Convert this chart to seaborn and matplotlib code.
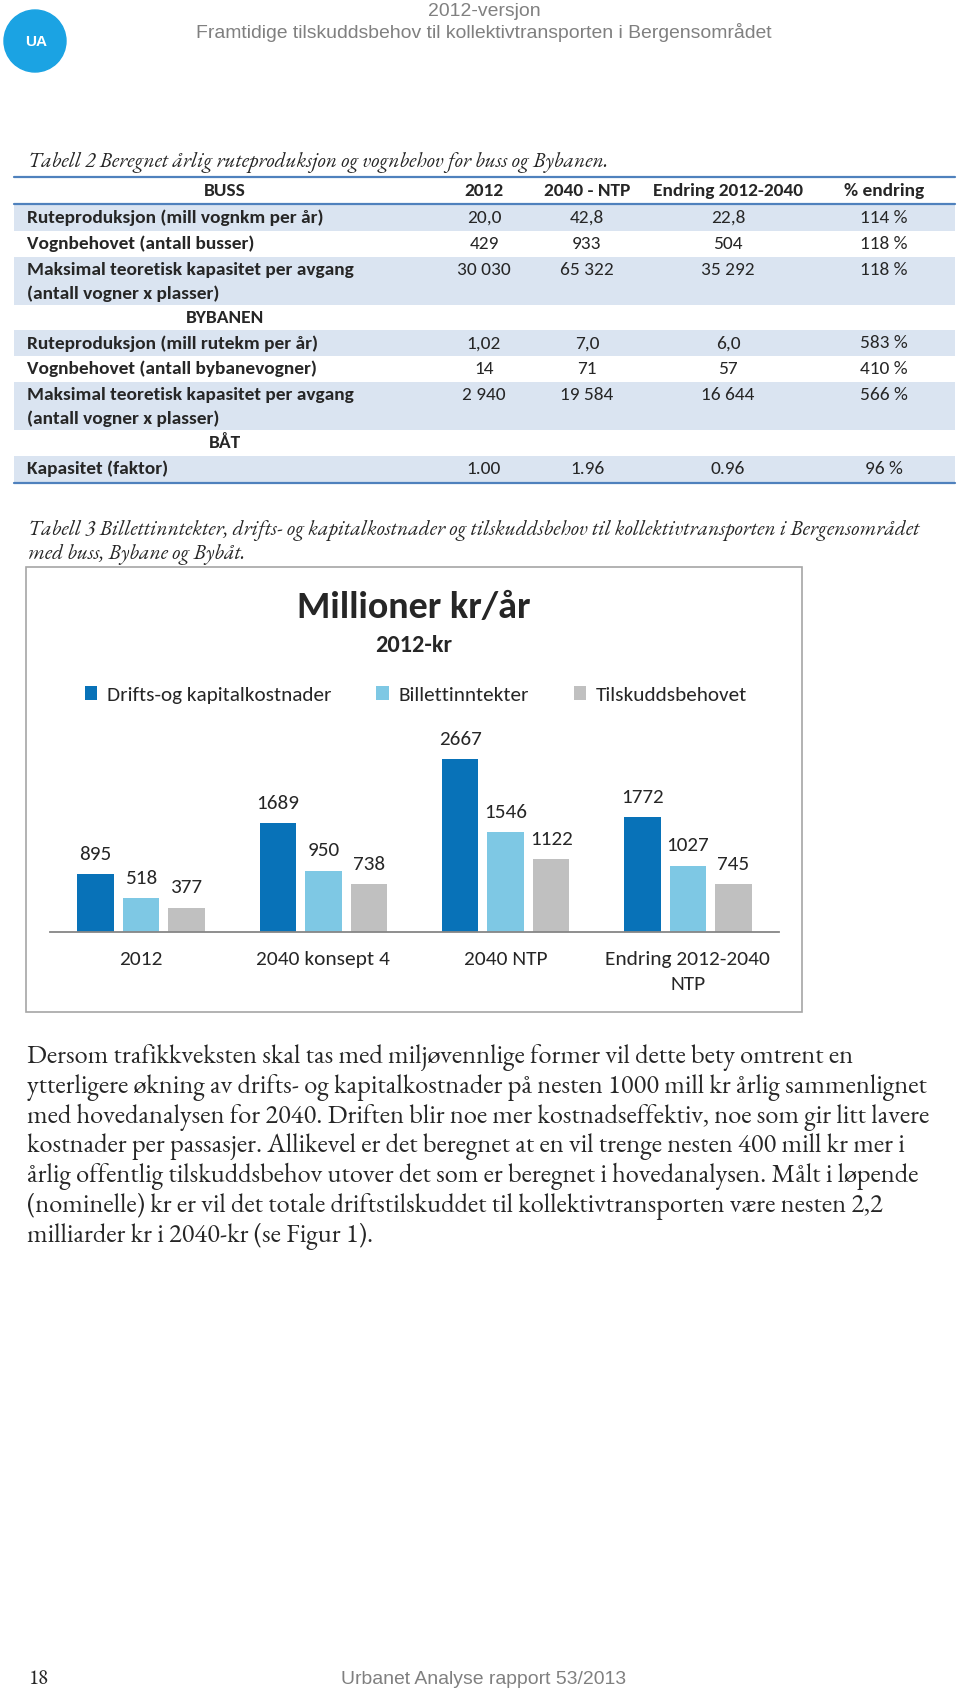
import matplotlib
matplotlib.use("Agg")
import pandas as pd
import seaborn as sns
import matplotlib.pyplot as plt
from matplotlib import font_manager
from matplotlib.patches import Rectangle, Circle


def first_font(names):
    # pick the first installed family, Calibri/Garamond/Arial are not there
    for name in names:
        try:
            font_manager.findfont(font_manager.FontProperties(family=name),
                                  fallback_to_default=False)
            return name
        except ValueError:
            continue
    return "DejaVu Sans"


CALIBRI = first_font(["Carlito", "Lato", "Open Sans"])
GARAMOND = first_font(["EB Garamond", "Liberation Serif", "DejaVu Serif"])
ARIAL = first_font(["Liberation Sans", "Arimo", "DejaVu Sans"])

# ---- header / captions ----
topptekst1 = "2012-versjon"
topptekst2 = "Framtidige tilskuddsbehov til kollektivtransporten i Bergensområdet"
tabell2_tekst = "Tabell 2 Beregnet årlig ruteproduksjon og vognbehov for buss og Bybanen."
tabell3_tekst = ["Tabell 3 Billettinntekter, drifts- og kapitalkostnader og tilskuddsbehov til kollektivtransporten i Bergensområdet",
                 "med buss, Bybane og Bybåt."]

# ---- table 2 ----
kolonner = ["2012", "2040 - NTP", "Endring 2012-2040", "% endring"]

buss_rader = ["Ruteproduksjon (mill vognkm per år)",
              "Vognbehovet (antall busser)",
              "Maksimal teoretisk kapasitet per avgang\n(antall vogner x plasser)"]
buss_2012 = ["20,0", "429", "30 030"]
buss_2040 = ["42,8", "933", "65 322"]
buss_endring = ["22,8", "504", "35 292"]
buss_pst = ["114 %", "118 %", "118 %"]

bybane_rader = ["Ruteproduksjon (mill rutekm per år)",
                "Vognbehovet (antall bybanevogner)",
                "Maksimal teoretisk kapasitet per avgang\n(antall vogner x plasser)"]
bybane_2012 = ["1,02", "14", "2 940"]
bybane_2040 = ["7,0", "71", "19 584"]
bybane_endring = ["6,0", "57", "16 644"]
bybane_pst = ["583 %", "410 %", "566 %"]

baat_rader = ["Kapasitet (faktor)"]
baat_2012 = ["1.00"]
baat_2040 = ["1.96"]
baat_endring = ["0.96"]
baat_pst = ["96 %"]

# ---- chart (table 3) ----
kategorier = ["2012", "2040 konsept 4", "2040 NTP", "Endring 2012-2040\nNTP"]
serier = ["Drifts-og kapitalkostnader", "Billettinntekter", "Tilskuddsbehovet"]
drifts = [895, 1689, 2667, 1772]
billett = [518, 950, 1546, 1027]
tilskudd = [377, 738, 1122, 745]
farger = ["#0872B8", "#7EC8E4", "#C0C0C0"]

# ---- body text ----
avsnitt = [
    "Dersom trafikkveksten skal tas med miljøvennlige former vil dette bety omtrent en",
    "ytterligere økning av drifts- og kapitalkostnader på nesten 1000 mill kr årlig sammenlignet",
    "med hovedanalysen for 2040. Driften blir noe mer kostnadseffektiv, noe som gir litt lavere",
    "kostnader per passasjer. Allikevel er det beregnet at en vil trenge nesten 400 mill kr mer i",
    "årlig offentlig tilskuddsbehov utover det som er beregnet i hovedanalysen. Målt i løpende",
    "(nominelle) kr er vil det totale driftstilskuddet til kollektivtransporten være nesten 2,2",
    "milliarder kr i 2040-kr (se Figur 1).",
]
sidetall = "18"
bunntekst = "Urbanet Analyse rapport 53/2013"

sns.set_theme(style="white")
plt.rcParams["font.family"] = [CALIBRI, "DejaVu Sans"]

W, H = 960, 1691
fig = plt.figure(figsize=(W / 100, H / 100), dpi=100, facecolor="white")
renderer = fig.canvas.get_renderer()


def fit(text, width, family, **kw):
    # font size that gives the text the width it has in the page
    t = fig.text(0, 0, text, fontsize=20, family=family, **kw)
    w = t.get_window_extent(renderer).width
    t.remove()
    return 20 * width / w


# page axes in pixel units, y down
page = fig.add_axes([0, 0, 1, 1])
page.set_xlim(0, W)
page.set_ylim(H, 0)
page.axis("off")

grey_txt = "#808080"

# header
page.add_patch(Circle((35, 41), 31, color="#1BA3E3"))
page.text(36, 42, "UA", color="white", weight="bold", family=ARIAL,
          fontsize=fit("UA", 22, ARIAL, weight="bold"), ha="center", va="center")
s_head = fit(topptekst2, 574, ARIAL)
page.text(484, 11, topptekst1, family=ARIAL, fontsize=s_head, color=grey_txt,
          ha="center", va="center")
page.text(484, 32, topptekst2, family=ARIAL, fontsize=s_head, color=grey_txt,
          ha="center", va="center")

# captions
s_cap = fit(tabell3_tekst[0], 891, GARAMOND, style="italic")
page.text(28, 167, tabell2_tekst, family=GARAMOND, style="italic", fontsize=s_cap,
          va="baseline")

# ---- table 2 ----
blue_line = "#4F81BD"
shade = "#DAE4F1"
x_lab = 27
x_cols = [484, 587, 728, 884]
x_sec = 225
s_tab = fit(buss_rader[0], 296, CALIBRI, weight="bold")

page.plot([14, 955], [177, 177], color=blue_line, lw=1.6)
page.plot([14, 955], [204, 204], color=blue_line, lw=1.6)
page.text(x_sec, 191, "BUSS", fontsize=s_tab, weight="bold", ha="center", va="center")
for xc, k in zip(x_cols, kolonner):
    page.text(xc, 191, k, fontsize=s_tab, weight="bold", ha="center", va="center")

seksjoner = [
    (None, buss_rader, buss_2012, buss_2040, buss_endring, buss_pst),
    ("BYBANEN", bybane_rader, bybane_2012, bybane_2040, bybane_endring, bybane_pst),
    ("BÅT", baat_rader, baat_2012, baat_2040, baat_endring, baat_pst),
]
y = 205.0
single, double = 25.8, 48.0
for navn, rader, v1, v2, v3, v4 in seksjoner:
    if navn is not None:
        page.text(x_sec, y + 13, navn, fontsize=s_tab, weight="bold",
                  ha="center", va="center")
        y += single
    for i, rad in enumerate(rader):
        linjer = rad.split("\n")
        h = single if len(linjer) == 1 else double
        if i % 2 == 0:
            page.add_patch(Rectangle((14, y), 941, h, color=shade, lw=0))
        for j, linje in enumerate(linjer):
            page.text(x_lab, y + 13 + 24 * j, linje, fontsize=s_tab, weight="bold",
                      ha="left", va="center")
        for xc, v in zip(x_cols, [v1[i], v2[i], v3[i], v4[i]]):
            page.text(xc, y + 13, v, fontsize=s_tab, ha="center", va="center")
        y += h
page.plot([14, 955], [y + 1, y + 1], color=blue_line, lw=1.6)

# caption table 3
page.text(28, 535, tabell3_tekst[0], family=GARAMOND, style="italic", fontsize=s_cap,
          va="baseline")
page.text(28, 559, tabell3_tekst[1], family=GARAMOND, style="italic", fontsize=s_cap,
          va="baseline")

# ---- chart ----
page.add_patch(Rectangle((26, 567), 776, 445, fill=False, ec="#A6A6A6", lw=1.2))
page.text(414, 608, "Millioner kr/år", weight="bold",
          fontsize=fit("Millioner kr/år", 234, CALIBRI, weight="bold"),
          ha="center", va="center")
page.text(414, 646, "2012-kr", weight="bold",
          fontsize=fit("2012-kr", 77, CALIBRI, weight="bold"),
          ha="center", va="center")

df = pd.DataFrame({
    "kategori": kategorier * 3,
    "serie": [serier[0]] * 4 + [serier[1]] * 4 + [serier[2]] * 4,
    "verdi": drifts + billett + tilskudd,
})

ax = fig.add_axes([50 / W, 1 - 932 / H, 729 / W, 200 / H])
ax.set_facecolor("none")
sns.barplot(data=df, x="kategori", y="verdi", hue="serie", palette=farger,
            width=0.75, gap=0.2, saturation=1, linewidth=0, ax=ax)
ax.set_ylim(0, 3090)

s_lab = fit("2667", 43, CALIBRI)
for c in ax.containers:
    ax.bar_label(c, fmt="%d", padding=8, fontsize=s_lab)

for side in ["left", "top", "right"]:
    ax.spines[side].set_visible(False)
ax.spines["bottom"].set_color("#868686")
ax.spines["bottom"].set_linewidth(1.3)
ax.set_yticks([])
ax.set_xlabel("")
ax.set_ylabel("")
s_tick = fit("Endring 2012-2040", 165, CALIBRI)
ax.set_xticks(range(len(kategorier)))
ax.set_xticklabels(kategorier, fontsize=s_tick)
for lab in ax.get_xticklabels():
    lab.set_linespacing(1.55)
ax.tick_params(axis="x", length=0, pad=14)

s_leg = fit(serier[0], 225, CALIBRI)
sns.move_legend(ax, "center", bbox_to_anchor=(416 / W, 1 - 695 / H),
                bbox_transform=fig.transFigure, ncol=3, title=None, frameon=False,
                fontsize=s_leg, handlelength=0.6, handleheight=0.6,
                handletextpad=0.45, columnspacing=2.1, borderaxespad=0)

# ---- body text ----
s_par = fit(avsnitt[2], 903, GARAMOND)
for k, linje in enumerate(avsnitt):
    page.text(27, 1063 + 29.8 * k, linje, family=GARAMOND, fontsize=s_par,
              va="baseline")

# footer
page.text(28, 1679, sidetall, family=GARAMOND, fontsize=fit(sidetall, 20, GARAMOND),
          va="center")
page.text(484, 1679, bunntekst, family=ARIAL, color=grey_txt,
          fontsize=fit(bunntekst, 283, ARIAL), ha="center", va="center")

fig.savefig("out.png", dpi=100, facecolor="white")
